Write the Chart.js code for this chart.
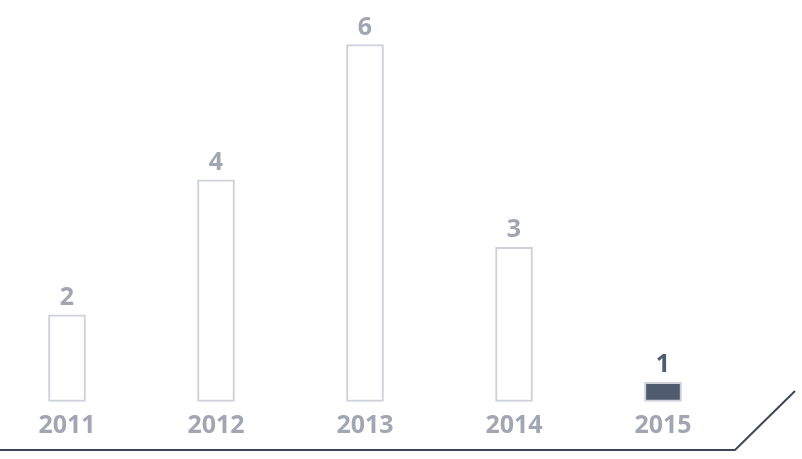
<!DOCTYPE html>
<html>
<head>
<meta charset="utf-8">
<script src="https://cdn.jsdelivr.net/npm/chart.js@4/dist/chart.umd.min.js"></script>
<style>
  html, body { margin: 0; padding: 0; background: #fff; }
  #wrap { position: relative; width: 802px; height: 459px; }
</style>
</head>
<body>
<div id="wrap"><canvas id="yearChart"></canvas></div>
<script>
// data
const years = ['2011', '2012', '2013', '2014', '2015'];
const counts = [2, 4, 6, 3, 1];
const highlightYear = '2015';

const labelGray = '#a2a6b3';
const darkSlate = '#4f5b6e';
const lineColor = '#3c4858';

// value labels above bars + year labels inside the plot, and the baseline
const decorations = {
    id: 'decorations',
    afterDatasetsDraw(chart) {
        const { ctx, chartArea } = chart;
        const x = chart.scales.x;
        const meta = chart.getDatasetMeta(0);
        ctx.save();
        ctx.textAlign = 'center';
        ctx.font = 'bold 25px "Open Sans", sans-serif';
        meta.data.forEach((bar, i) => {
            const hl = years[i] === highlightYear;
            ctx.fillStyle = hl ? darkSlate : labelGray;
            ctx.textBaseline = 'alphabetic';
            ctx.fillText(String(counts[i]), bar.x, bar.y - 10);
            ctx.fillStyle = labelGray;
            ctx.fillText(years[i], x.getPixelForValue(i), bar.base + 32);
        });
        // baseline with diagonal end
        ctx.strokeStyle = lineColor;
        ctx.lineWidth = 2;
        ctx.beginPath();
        ctx.moveTo(0, chartArea.bottom);
        ctx.lineTo(735, chartArea.bottom);
        ctx.lineTo(795, chartArea.bottom - 59);
        ctx.stroke();
        ctx.restore();
    }
};

const ctx = document.getElementById('yearChart').getContext('2d');
const yearChart = new Chart(ctx, {
    type: 'bar',
    data: {
        labels: years,
        datasets: [{
            data: counts,
            base: 0.72,
            backgroundColor: years.map(y => y === highlightYear ? darkSlate : '#ffffff'),
            borderColor: '#cfd1da',
            borderWidth: 2,
            borderSkipped: false,
            barThickness: 37,
            clip: false,
        }]
    },
    options: {
        responsive: true,
        maintainAspectRatio: false,
        animation: false,
        layout: { padding: { top: 0, bottom: 9, left: 67, right: 139 } },
        plugins: {
            legend: { display: false },
            tooltip: { enabled: false },
        },
        scales: {
            x: {
                display: false,
                offset: false,
            },
            y: {
                display: false,
                min: 0,
                max: 6.66,
            }
        }
    },
    plugins: [decorations]
});
</script>
</body>
</html>
